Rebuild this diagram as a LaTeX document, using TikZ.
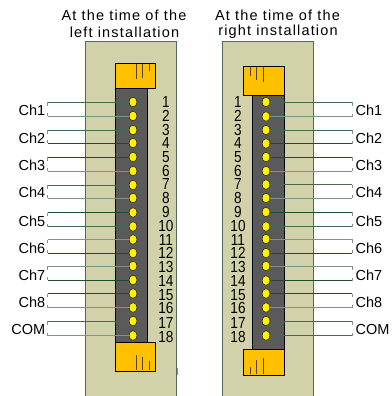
\documentclass[tikz,border=0pt]{standalone}
\usepackage{fontspec}
\usetikzlibrary{shapes.geometric}
\setmainfont{Liberation Sans}
\definecolor{panelfill}{HTML}{D2D2AA}
\definecolor{paneledge}{HTML}{4F6F55}
\definecolor{stripfill}{HTML}{5A5A5A}
\definecolor{clipfill}{HTML}{FFC000}
\definecolor{wireD}{HTML}{1F4A2C}
\definecolor{wireM}{HTML}{47694F}
\definecolor{wireL}{HTML}{7C9884}
\tikzset{
  x=1pt,y=-1pt,
  panel/.style={draw=paneledge,fill=panelfill,line width=0.9pt},
  strip/.style={draw=black,fill=stripfill,line width=0.9pt},
  clipbox/.style={draw=black,fill=clipfill,line width=0.9pt},
  dot/.style={ellipse,draw=black,fill=yellow,line width=0.4pt,minimum width=8pt,minimum height=9.5pt,inner sep=0pt},
  wire/.style={line width=1pt},
  tick/.style={draw=wireL,line width=0.8pt},
  notch/.style={draw=black!65!clipfill,line width=0.9pt},
  title/.style={font=\fontsize{14.5}{15}\selectfont\addfontfeatures{LetterSpace=8},anchor=center,inner sep=0pt},
  lab/.style={font=\fontsize{14.5}{15}\selectfont,inner sep=0pt},
  num/.style={font=\fontsize{16}{15}\selectfont,inner sep=0pt,xscale=0.85},
}
\begin{document}
\begin{tikzpicture}
\useasboundingbox (0,0) rectangle (391,396);
\node[title] (tl1) at (124,15) {At the time of the};
\node[title] (tl2) at (124.5,32) {left installation};
\node[title] (tr1) at (277.5,15) {At the time of the};
\node[title] (tr2) at (278,32) {right installation};
% left panel
\path[panel] (85.5,41.5) rectangle (176.5,396.5);
\path[strip] (115,88) rectangle (147,342);
\path[clipbox] (115,63) rectangle (155,88);
\draw[notch] (136,64) -- (136,79) (142.5,64) -- (142.5,78) (149,64) -- (149,70.5);
\path[clipbox] (115,342) rectangle (155,371);
\draw[notch] (136,370) -- (136,355) (142.5,370) -- (142.5,357) (149,370) -- (149,361);
\draw[draw=wireL,line width=1.2pt] (177.5,367.5) -- (177.5,374.5);
% right panel
\path[panel] (222.5,41.5) rectangle (313.5,396.5);
\path[strip] (252.5,95) rectangle (284.5,349);
\path[clipbox] (243.5,66) rectangle (284.5,95);
\draw[notch] (250,67) -- (250,76) (256.5,67) -- (256.5,80) (263,67) -- (263,82);
\path[clipbox] (243.5,349) rectangle (284.5,375);
\draw[notch] (250,374) -- (250,367) (256.5,374) -- (256.5,360) (263,374) -- (263,358);
% dots, numbers, wires
\foreach \i/\yl/\yr/\yn/\cl/\cr in {1/102/102/102/wireM/wireM,2/116/116.5/116/wireL/wireL,3/130/130/130/wireM/wireM,4/143/143.5/143/wireD/wireD,5/157/157/157/wireD/wireD,6/171/171/171/wireL/wireL,7/185/184.5/184/wireM/wireM,8/198/198/198/wireL/wireL,9/212.5/212/212/wireD/wireD,10/226.5/226.5/226/wireM/wireM,11/239.5/239/240/wireL/wireL,12/253/253/253/wireD/wireD,13/266/266/267/wireL/wireL,14/280/280.5/281/wireD/wireD,15/293.5/293.5/295/wireD/wireD,16/307.5/307.5/308/wireL/wireL,17/321/321/323/wireM/wireM,18/335.5/335.5/337/wireL/wireM}{
  \coordinate (lw\i) at (47.5,\yl);
  \coordinate (rw\i) at (352,\yr);
  \node[dot] (ld\i) at (133,\yl) {};
  \node[dot] (rd\i) at (266,\yr) {};
  \node[num] (ln\i) at (166,\yn) {\i};
  \node[num] (rn\i) at (238,\yn) {\i};
  \draw[wire,draw=\cl] (lw\i) -- (ld\i);
  \draw[wire,draw=\cr] (rd\i) -- (rw\i);
}
\foreach \a/\b/\yy/\t in {1/2/110/Ch1,3/4/138/Ch2,5/6/165/Ch3,7/8/192.5/Ch4,9/10/221/Ch5,11/12/248/Ch6,13/14/275/Ch7,15/16/302/Ch8,17/18/330/COM}{
  \node[lab,anchor=east] (ll\a) at (45.5,\yy) {\t};
  \node[lab,anchor=west] (rl\a) at (355.5,\yy) {\t};
  \draw[tick] (lw\a) -- ++(0,3.5);
  \draw[tick] (lw\b) -- ++(0,-3);
  \draw[tick] (rw\a) -- ++(0,3.5);
  \draw[tick] (rw\b) -- ++(0,-3);
}
\end{tikzpicture}
\end{document}
